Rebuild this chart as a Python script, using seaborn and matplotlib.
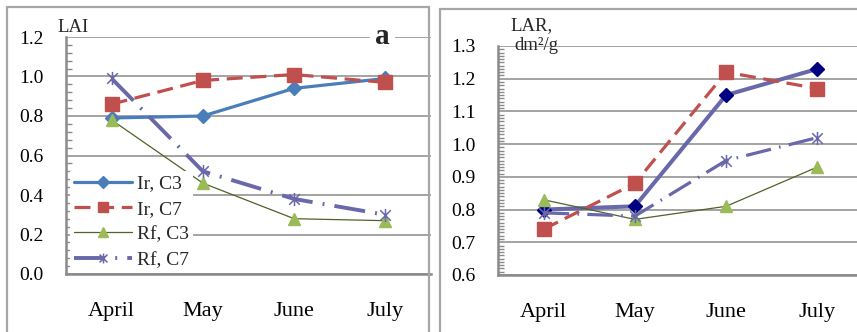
import matplotlib
matplotlib.use("Agg")
import matplotlib.pyplot as plt
import seaborn as sns
import numpy as np
import pandas as pd
from matplotlib.path import Path
from matplotlib.patches import Rectangle
from matplotlib.ticker import MultipleLocator, FormatStrFormatter

months = ["April", "May", "June", "July"]

# Leaf area index (panel a)
lai_ir_c3 = [0.79, 0.80, 0.94, 0.99]
lai_ir_c7 = [0.86, 0.98, 1.01, 0.97]
lai_rf_c3 = [0.78, 0.46, 0.28, 0.27]
lai_rf_c7 = [0.99, 0.52, 0.38, 0.30]

# Leaf area ratio, dm2/g (panel b)
lar_ir_c3 = [0.80, 0.81, 1.15, 1.23]
lar_ir_c7 = [0.74, 0.88, 1.22, 1.17]
lar_rf_c3 = [0.83, 0.77, 0.81, 0.93]
lar_rf_c7 = [0.79, 0.78, 0.95, 1.02]

series_names = ["Ir, C3", "Ir, C7", "Rf, C3", "Rf, C7"]

sns.set_theme(style="white")
plt.rcParams["font.family"] = ["Liberation Serif", "DejaVu Serif"]

W, H = 857, 332
fig = plt.figure(figsize=(W / 100, H / 100), dpi=100)
fig.patch.set_facecolor("white")


def fx(x):
    return x / W


def fy(y):
    return 1 - y / H


GRID = "#8a8a8a"
AXC = "#8a8a8a"

# asterisk-like star: vertical bar plus an X
star = Path(
    [(0, -1), (0, 1), (-0.8, -0.8), (0.8, 0.8), (-0.8, 0.8), (0.8, -0.8)],
    [Path.MOVETO, Path.LINETO, Path.MOVETO, Path.LINETO, Path.MOVETO, Path.LINETO],
)


def style_axes(ax, lo, hi, major, minor):
    ax.set_xlim(-0.5, 3.5)
    ax.set_ylim(lo, hi)
    ax.yaxis.set_major_locator(MultipleLocator(major))
    ax.yaxis.set_minor_locator(MultipleLocator(minor))
    ax.yaxis.set_major_formatter(FormatStrFormatter("%.1f"))
    ax.set_xticks(range(4))
    ax.set_xticklabels(months)
    ax.set_xticks([0.5, 1.5, 2.5, 3.5, -0.5], minor=True)
    ax.tick_params(axis="x", which="major", length=0, pad=20, labelsize=16)
    ax.tick_params(axis="x", which="minor", length=6, width=1.2, color=AXC,
                   direction="out")
    ax.tick_params(axis="y", which="major", length=6, width=1.2, color=AXC,
                   direction="out", pad=10, labelsize=14)
    ax.tick_params(axis="y", which="minor", length=4, width=1.0, color=AXC,
                   direction="in", left=True)
    ax.tick_params(colors="black", which="major", labelcolor="black")
    ax.tick_params(axis="both", which="major", color=AXC)
    ax.grid(axis="y", which="major", color=GRID, lw=1.1)
    ax.grid(axis="x", visible=False)
    for s in ["top", "right"]:
        ax.spines[s].set_visible(False)
    for s in ["left", "bottom"]:
        ax.spines[s].set_color(AXC)
        ax.spines[s].set_linewidth(1.8)
    ax.set_xlabel("")
    ax.set_ylabel("")
    ax.set_axisbelow(True)


def draw(ax, x, y, color, ls, lw, marker, ms, mfc, mec, mew=1.0, label=None):
    sns.lineplot(x=x, y=y, ax=ax, sort=False, color=color, linestyle=ls, lw=lw,
                 marker=marker, markersize=ms, markerfacecolor=mfc,
                 markeredgecolor=mec, markeredgewidth=mew, label=label,
                 legend=False)


BLUE = "#4a7ebb"
RED = "#c0504d"
GREEN_L = "#4f6228"
GREEN_M = "#9bbb59"
PURPLE = "#6868aa"
NAVY = "#000080"

dash_red = (0, (5, 2.4))
dash_dot = (0, (8, 2.6, 0.5, 2.6))

# frames around the two panels
fig.patches.append(Rectangle((fx(7), fy(340)), fx(429 - 7), fy(7) - fy(340),
                             transform=fig.transFigure, fill=False,
                             ec="#a6a6a6", lw=1.6))
fig.patches.append(Rectangle((fx(440), fy(340)), fx(430), fy(9) - fy(340),
                             transform=fig.transFigure, fill=False,
                             ec="#a6a6a6", lw=1.6))

# ---- panel a: LAI ----
axA = fig.add_axes([fx(66), fy(274), fx(365), fy(37) - fy(274)])
axA.patch.set_alpha(0)
draw(axA, months, lai_ir_c3, BLUE, "-", 2.3, "D", 7.5, BLUE, BLUE, label=series_names[0])
draw(axA, months, lai_ir_c7, RED, dash_red, 2.3, "s", 9.5, RED, RED, label=series_names[1])
draw(axA, months, lai_rf_c3, GREEN_L, "-", 0.9, "^", 9, GREEN_M, GREEN_M, label=series_names[2])
draw(axA, months, lai_rf_c7, PURPLE, dash_dot, 2.8, star, 9.5, "none", PURPLE,
     mew=1.1, label=series_names[3])
style_axes(axA, 0.0, 1.2, 0.2, 0.04)

axA.text(2.97, 1.2, "a", fontsize=21, fontweight="bold", ha="center",
         va="center", bbox=dict(fc="white", ec="none", pad=4), zorder=5)
fig.text(fx(57), fy(31.5), "LAI", fontsize=13.5, ha="left", va="baseline")

handles = axA.get_lines()[:4]
leg = axA.legend(handles=handles, labels=series_names, loc="upper left",
                 bbox_to_anchor=(fx(70), fy(171)), bbox_transform=fig.transFigure,
                 frameon=True, framealpha=1, facecolor="white", edgecolor="none",
                 fontsize=14, handlelength=3.0, handletextpad=0.25,
                 labelspacing=0.40, borderpad=0.2, borderaxespad=0,
                 markerscale=0.75, numpoints=1, fancybox=False)
leg.set_zorder(4)

# ---- panel b: LAR ----
axB = fig.add_axes([fx(498), fy(275), fx(365), fy(46) - fy(275)])
axB.patch.set_alpha(0)
draw(axB, months, lar_ir_c3, PURPLE, "-", 2.9, "D", 7.5, NAVY, NAVY)
draw(axB, months, lar_ir_c7, RED, dash_red, 2.3, "s", 9.5, RED, RED)
draw(axB, months, lar_rf_c3, GREEN_L, "-", 0.9, "^", 9, GREEN_M, GREEN_M)
draw(axB, months, lar_rf_c7, PURPLE, dash_dot, 2.3, star, 9.5, "none", PURPLE, mew=1.1)
style_axes(axB, 0.6, 1.3, 0.1, 0.01)

fig.text(fx(532), fy(30.5), "LAR,", fontsize=13.5, ha="center", va="baseline")
fig.text(fx(536), fy(49.5), "dm²/g", fontsize=13.5, ha="center", va="baseline")

fig.savefig("out.png", dpi=100, facecolor="white")
